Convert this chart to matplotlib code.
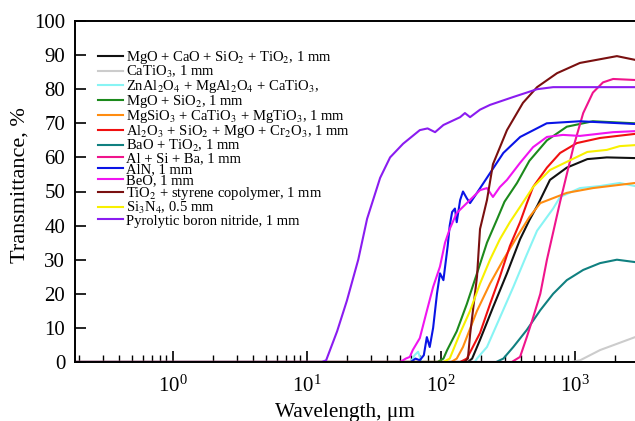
import matplotlib
matplotlib.use("Agg")
import matplotlib.pyplot as plt

config = {"font.family": "serif",
          "font.serif": ["Liberation Serif", "DejaVu Serif"],
          "mathtext.fontset": "stix",
          "font.size": 12}
plt.rcParams.update(config)

# wavelength (um) / transmittance (%)
wl_mgo_cao = [0.19, 160, 172, 197, 246, 313, 392, 460, 530, 655, 875, 1245, 1740, 2830]
t_mgo_cao = [0, 0, 1, 6.5, 16, 26, 36, 41.6, 46, 53.4, 57, 59.5, 60, 59.8]

wl_catio3 = [0.19, 950, 1100, 1550, 2830]
t_catio3 = [0, 0, 0.5, 3.5, 7.3]

wl_znal = [0.19, 60, 64, 68, 72, 180, 187, 222, 277, 349, 440, 525, 692, 780, 1096, 1550, 2170, 2830]
t_znal = [0, 0, 2, 3, 0, 0, 1, 4.4, 13, 22, 31.5, 38.5, 45, 48.4, 51, 51.6, 52.5, 51.6]

wl_mgo_sio2 = [0.19, 95, 105, 112, 132, 157, 187, 222, 265, 300, 372, 460, 622, 875, 1370, 2830]
t_mgo_sio2 = [0, 0, 1, 3.5, 9, 17, 26, 35, 42, 47, 52.5, 59, 65, 69, 70.6, 70]

wl_mgsio3 = [0.19, 120, 132, 147, 187, 234, 294, 372, 460, 555, 875, 1370, 2830]
t_mgsio3 = [0, 0, 1, 4.4, 15, 23, 30, 36.7, 42.5, 46.6, 49.6, 51, 52.5]

wl_al2o3 = [0.19, 140, 157, 197, 234, 277, 329, 392, 440, 490, 622, 780, 1040, 1550, 2830]
t_al2o3 = [0, 0, 1, 8.5, 17, 25, 34, 41, 46.5, 51.3, 57, 61.3, 64.2, 65.7, 66.9]

wl_bao = [0.19, 260, 294, 349, 440, 555, 692, 875, 1160, 1550, 2070, 2830]
t_bao = [0, 0, 1, 4.4, 9.4, 15.2, 20, 24, 27, 29, 30, 29.3]

wl_alsiba = [0.19, 340, 392, 440, 490, 555, 622, 692, 780, 819, 980, 1160, 1370, 1630, 1940, 2830]
t_alsiba = [0, 0, 1.5, 7.3, 13, 20, 30, 38, 47, 50.4, 63, 73, 79, 82, 83, 82.7]

wl_aln = [0.19, 60, 65, 70, 75, 79, 83, 88, 94, 99, 102, 105, 113, 117, 122, 128, 132, 140, 147,
          157, 166, 187, 234, 294, 393, 620, 1096, 2830]
t_aln = [0, 0, 1, 0.5, 2, 7.3, 4.4, 10, 20, 26, 25, 24, 34, 40, 44, 45, 41, 47.5, 50,
         48, 46.6, 49.6, 55.4, 61.3, 66, 70, 70.6, 69.8]

wl_beo = [0.19, 50, 55, 59, 62, 70, 79, 88, 99, 108, 117, 132, 157, 197, 222, 246, 277, 313,
          392, 490, 622, 819, 1096, 1936, 2830]
t_beo = [0, 0, 1, 1.5, 3.5, 7, 15, 22, 28, 35, 39, 43.7, 46.6, 50.4, 51, 48.4, 51.3, 53.4,
         58.4, 63, 66, 66.6, 66.3, 67.4, 67.7]

wl_tio2 = [0.19, 150, 160, 166, 187, 197, 222, 246, 313, 412, 525, 740, 1096, 2070, 2830]
t_tio2 = [0, 0, 1, 8, 25, 39, 47.5, 58, 68, 76, 80.6, 84.7, 87.7, 89.7, 88.6]

wl_si3n4 = [0.19, 105, 117, 140, 166, 197, 234, 277, 329, 392, 490, 655, 875, 1245, 1740, 2170, 2830]
t_si3n4 = [0, 0, 1, 8.5, 15, 23, 30, 36, 41, 45.5, 51.3, 56.3, 58.7, 61.6, 62.2, 63.3, 63.6]

wl_pbn = [0.19, 13, 14, 16.9, 20, 24.3, 28.3, 35.4, 42, 52.5, 70, 80, 91, 105, 140, 152, 166,
          197, 234, 348, 525, 692, 2830]
t_pbn = [0, 0, 0.5, 9, 18, 30, 42, 54, 60, 64, 68, 68.5, 67.4, 69.5, 71.8, 73, 71.8,
         74, 75.4, 77.7, 80, 80.6, 80.6]

labels = [r"MgO + CaO + SiO$_2$ + TiO$_2$, 1 mm",
          r"CaTiO$_3$, 1 mm",
          r"ZnAl$_2$O$_4$ + MgAl$_2$O$_4$ + CaTiO$_3$,",
          r"MgO + SiO$_2$, 1 mm",
          r"MgSiO$_3$ + CaTiO$_3$ + MgTiO$_3$, 1 mm",
          r"Al$_2$O$_3$ + SiO$_2$ + MgO + Cr$_2$O$_3$, 1 mm",
          r"BaO + TiO$_2$, 1 mm",
          r"Al + Si + Ba, 1 mm",
          r"AlN, 1 mm",
          r"BeO, 1 mm",
          r"TiO$_2$ + styrene copolymer, 1 mm",
          r"Si$_3$N$_4$, 0.5 mm",
          r"Pyrolytic boron nitride, 1 mm"]
colors = ["#111111", "#cccccc", "#88f4f4", "#1c8a1c", "#ff8c10", "#f01010", "#108080",
          "#f0148c", "#0a14e6", "#f014f0", "#7a1010", "#f8f000", "#8a1cf0"]

series = [(wl_mgo_cao, t_mgo_cao), (wl_catio3, t_catio3), (wl_znal, t_znal),
          (wl_mgo_sio2, t_mgo_sio2), (wl_mgsio3, t_mgsio3), (wl_al2o3, t_al2o3),
          (wl_bao, t_bao), (wl_alsiba, t_alsiba), (wl_aln, t_aln), (wl_beo, t_beo),
          (wl_tio2, t_tio2), (wl_si3n4, t_si3n4), (wl_pbn, t_pbn)]

fig = plt.figure(figsize=(6.35, 4.21), dpi=100)
ax = fig.add_axes([75 / 635, 1 - 362 / 421, 560 / 635, 341 / 421])

for (x, y), lab, c in zip(series, labels, colors):
    ax.plot(x, y, color=c, lw=1.5, label=lab)

ax.set_xscale("log")
ax.set_xlim(0.187, 2825)
ax.set_ylim(0, 100)
ax.set_yticks(range(0, 101, 10))
ax.spines["right"].set_visible(False)
for s in ["left", "bottom", "top"]:
    ax.spines[s].set_linewidth(1.4)
ax.tick_params(which="major", direction="in", length=8, width=1.2, labelsize=15, top=False, right=False)
ax.tick_params(which="minor", direction="in", length=5, width=1.0, top=False, right=False)
ax.tick_params(axis="x", pad=10)
ax.tick_params(axis="y", pad=7)
ax.set_xlabel("Wavelength, μm", fontsize=15.3, labelpad=4, x=0.482)
ax.set_ylabel("Transmittance, %", fontsize=16, labelpad=3, y=0.52)

ax.legend(loc="upper left", bbox_to_anchor=(0.041, 0.918), frameon=False, fontsize=10.5,
          handlelength=1.7, handletextpad=0.2, labelspacing=-0.14, borderpad=0, borderaxespad=0)

plt.savefig("out.png", dpi=100)
